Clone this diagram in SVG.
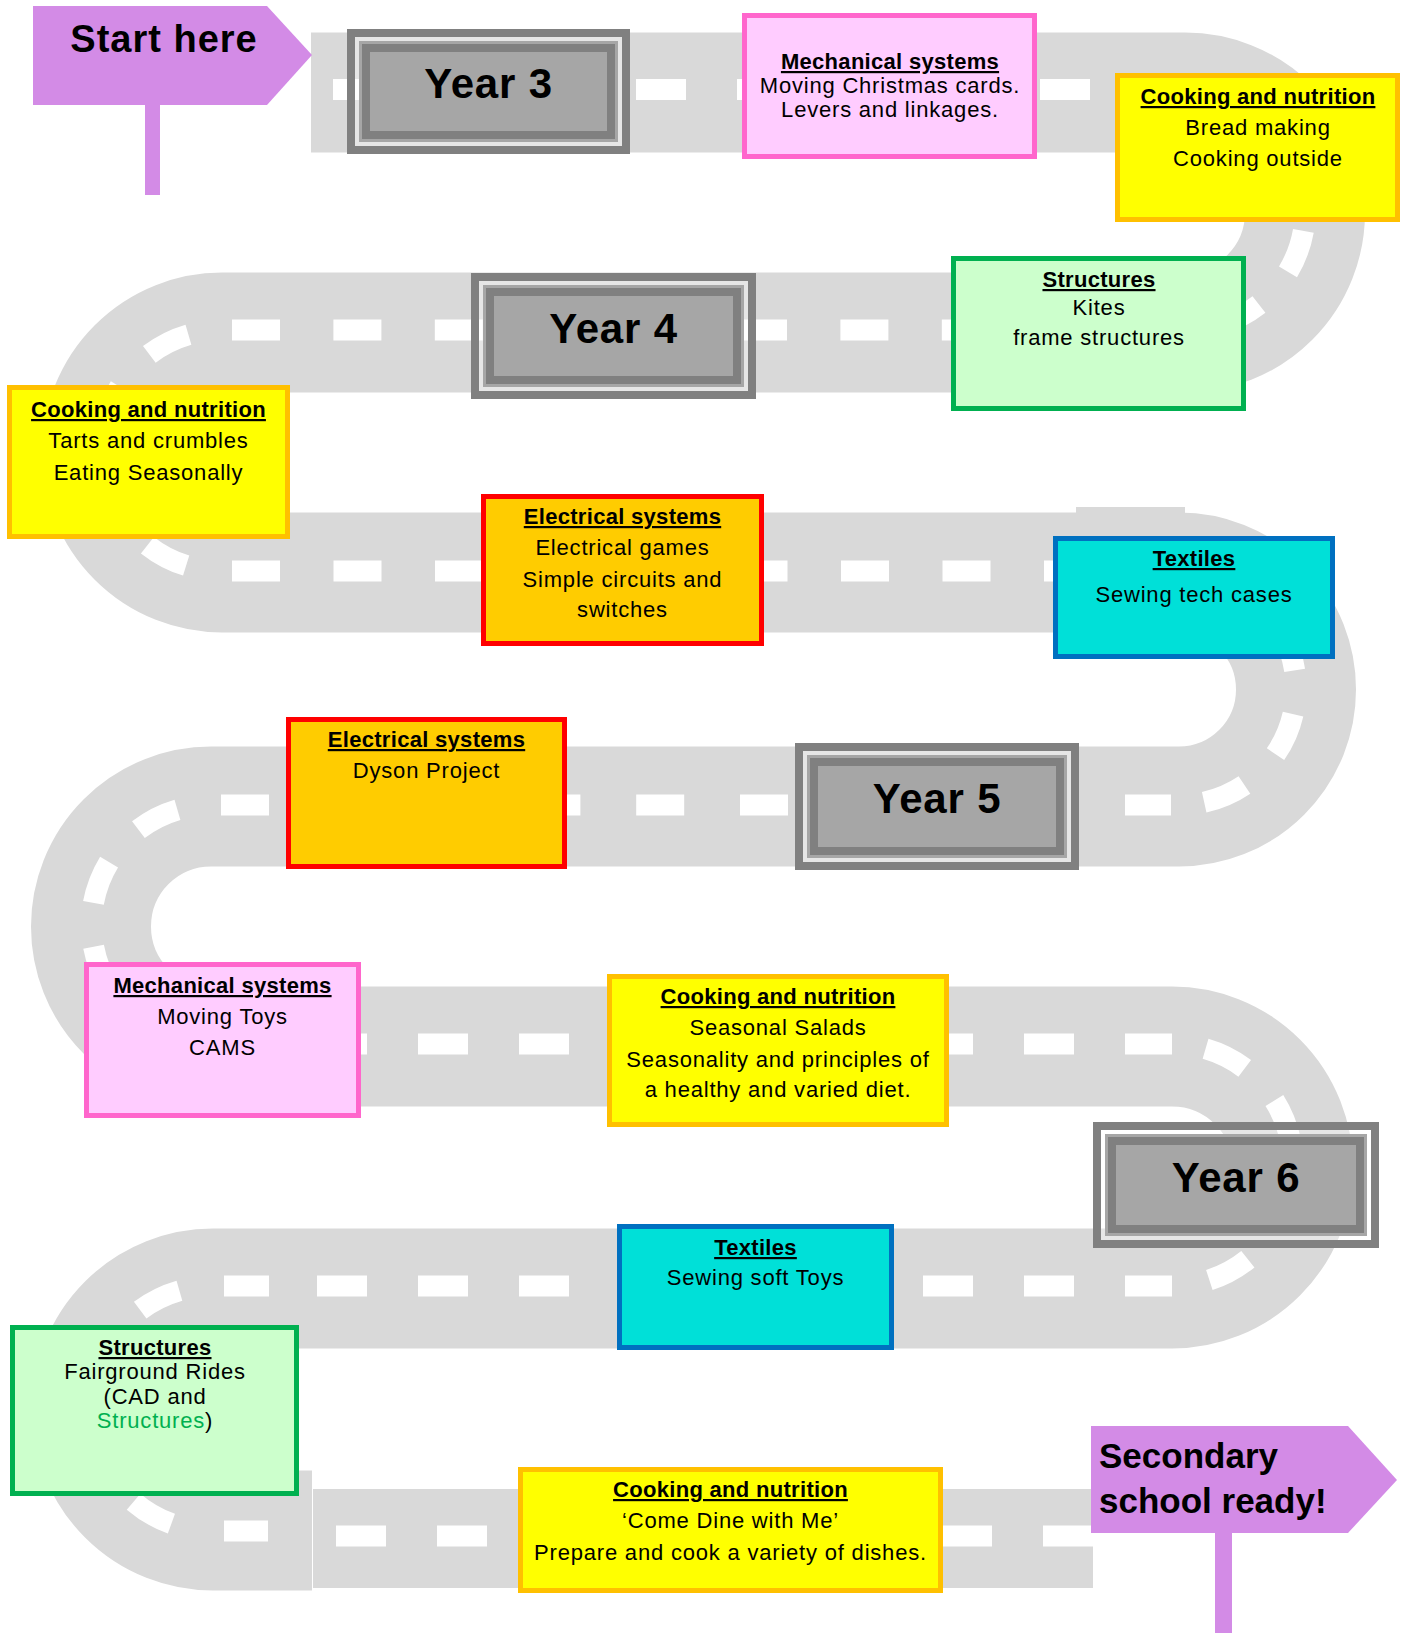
<svg xmlns="http://www.w3.org/2000/svg" width="1407" height="1640" viewBox="0 0 1407 1640">
<style>
.road{fill:none;stroke:#d9d9d9;stroke-width:120}
.roadfill{fill:#d9d9d9}
.dash{fill:none;stroke:#ffffff;stroke-width:21}
.cdash{fill:none;stroke:#ffffff;stroke-width:21;stroke-dasharray:44 44;stroke-dashoffset:54}
.box{stroke-width:5}
.pink{fill:#ffccff;stroke:#ff66cc}
.yellow{fill:#ffff00;stroke:#ffc000}
.green{fill:#ccffcc;stroke:#00b050}
.orange{fill:#ffcc00;stroke:#ff0000}
.cyan{fill:#00e0d8;stroke:#0070c0}
.sign{fill:#d38be6}
.yf{fill:none;stroke:#808080;stroke-width:8}
.yg{fill:#ffffff;fill-opacity:0.35}
.ym{fill:#a6a6a6}
.yd{fill:#808080}
text{font-family:"Liberation Sans",Arial,sans-serif;fill:#000000}
.t{font-size:22px;text-anchor:middle;letter-spacing:0.8px}
.h{font-size:22px;text-anchor:middle;font-weight:bold;text-decoration:underline;letter-spacing:0.3px}
.yt{font-size:42px;font-weight:bold;text-anchor:middle;letter-spacing:0.8px}
.st{font-size:38px;font-weight:bold;letter-spacing:1px}
.sc{font-size:35px;font-weight:bold}
</style>

<g id="road">
<path class="road" d="M311,92.5 H1185 A120,120 0 0 1 1185,332.5 H222 A120,120 0 0 0 222,572.5 H1179 A117,117 0 0 1 1179,806.5 H211 A120,120 0 0 0 211,1046.5 H1172 A121,121 0 0 1 1172,1288.5 H213 A121,121 0 0 0 213,1530.5 H312"/>
<rect class="roadfill" x="1076" y="507" width="109" height="8"/>
<rect class="roadfill" x="313" y="1489" width="780" height="99"/>
<g id="dashes">
<path class="dash" d="M333,89.5 H1185" stroke-dasharray="50 51"/>
<path class="cdash" d="M1185,89.5 A120.25,120.25 0 0 1 1185,330"/>
<path class="dash" d="M232,330 H1185" stroke-dasharray="48 53.4"/>
<path class="cdash" d="M222,330 A120.5,120.5 0 0 0 222,571"/>
<path class="dash" d="M232,571 H1179" stroke-dasharray="48 53.5"/>
<path class="cdash" d="M1179,571 A117,117 0 0 1 1179,805"/>
<path class="dash" d="M221,805 H800" stroke-dasharray="48 55.8"/>
<path class="dash" d="M1125,805 H1171"/>
<path class="cdash" d="M211,805 A119.5,119.5 0 0 0 211,1044"/>
<path class="dash" d="M216,1044 H1172" stroke-dasharray="50 51"/>
<path class="cdash" d="M1172,1044 A121,121 0 0 1 1172,1286"/>
<path class="dash" d="M317,1286 H1172" stroke-dasharray="50 51"/>
<path class="dash" d="M224,1286 H269"/>
<path class="cdash" d="M213,1286 A122.5,122.5 0 0 0 213,1531"/>
<path class="dash" d="M224,1531 H268"/>
<path class="dash" d="M336,1536 H1093" stroke-dasharray="50 51"/>
</g>
</g>

<g id="start-sign">
<polygon class="sign" points="33,6 267,6 312,55 267,105 33,105"/>
<rect class="sign" x="145" y="105" width="15" height="90"/>
<text class="st" x="164" y="52" text-anchor="middle">Start here</text>
</g>

<g id="year3">
<rect class="yf" x="351" y="33" width="275" height="117"/>
<rect class="yg" x="355" y="37" width="267" height="109"/>
<rect class="ym" x="359" y="41" width="259" height="101"/>
<rect class="yd" x="362" y="44" width="253" height="95"/>
<rect class="ym" x="370" y="52" width="237" height="79"/>
<text class="yt" x="488.5" y="98">Year 3</text>
</g>

<g id="mech-y3">
<rect class="box pink" x="744.5" y="15.5" width="290" height="141"/>
<text class="h" x="890" y="69">Mechanical systems</text>
<text class="t" x="890" y="93">Moving Christmas cards.</text>
<text class="t" x="890" y="117">Levers and linkages.</text>
</g>

<g id="cook-y3">
<rect class="box yellow" x="1117.5" y="75.5" width="280" height="144"/>
<text class="h" x="1258" y="104">Cooking and nutrition</text>
<text class="t" x="1258" y="135">Bread making</text>
<text class="t" x="1258" y="166">Cooking outside</text>
</g>

<g id="struct-y3">
<rect class="box green" x="953.5" y="258.5" width="290" height="150"/>
<text class="h" x="1099" y="287">Structures</text>
<text class="t" x="1099" y="315">Kites</text>
<text class="t" x="1099" y="345">frame structures</text>
</g>

<g id="year4">
<rect class="yf" x="475" y="277" width="277" height="118"/>
<rect class="yg" x="479" y="281" width="269" height="110"/>
<rect class="ym" x="483" y="285" width="261" height="102"/>
<rect class="yd" x="486" y="288" width="255" height="96"/>
<rect class="ym" x="494" y="296" width="239" height="80"/>
<text class="yt" x="613.5" y="343">Year 4</text>
</g>

<g id="cook-y4">
<rect class="box yellow" x="9.5" y="387.5" width="278" height="149"/>
<text class="h" x="148.5" y="417">Cooking and nutrition</text>
<text class="t" x="148.5" y="448">Tarts and crumbles</text>
<text class="t" x="148.5" y="480">Eating Seasonally</text>
</g>

<g id="elec-y4">
<rect class="box orange" x="483.5" y="496.5" width="278" height="147"/>
<text class="h" x="622.5" y="524">Electrical systems</text>
<text class="t" x="622.5" y="555">Electrical games</text>
<text class="t" x="622.5" y="587">Simple circuits and</text>
<text class="t" x="622.5" y="617">switches</text>
</g>

<g id="text-y4">
<rect class="box cyan" x="1055.5" y="538.5" width="277" height="118"/>
<text class="h" x="1194" y="566">Textiles</text>
<text class="t" x="1194" y="602">Sewing tech cases</text>
</g>

<g id="elec-y5">
<rect class="box orange" x="288.5" y="719.5" width="276" height="147"/>
<text class="h" x="426.5" y="747">Electrical systems</text>
<text class="t" x="426.5" y="778">Dyson Project</text>
</g>

<g id="year5">
<rect class="yf" x="799" y="747" width="276" height="119"/>
<rect class="yg" x="803" y="751" width="268" height="111"/>
<rect class="ym" x="807" y="755" width="260" height="103"/>
<rect class="yd" x="810" y="758" width="254" height="97"/>
<rect class="ym" x="818" y="766" width="238" height="81"/>
<text class="yt" x="937" y="813">Year 5</text>
</g>

<g id="mech-y5">
<rect class="box pink" x="86.5" y="964.5" width="272" height="151"/>
<text class="h" x="222.5" y="993">Mechanical systems</text>
<text class="t" x="222.5" y="1024">Moving Toys</text>
<text class="t" x="222.5" y="1055">CAMS</text>
</g>

<g id="cook-y5">
<rect class="box yellow" x="609.5" y="976.5" width="337" height="148"/>
<text class="h" x="778" y="1004">Cooking and nutrition</text>
<text class="t" x="778" y="1035">Seasonal Salads</text>
<text class="t" x="778" y="1067">Seasonality and principles of</text>
<text class="t" x="778" y="1097">a healthy and varied diet.</text>
</g>

<g id="year6">
<rect class="yf" x="1097" y="1126" width="278" height="118"/>
<rect class="yg" x="1101" y="1130" width="270" height="110"/>
<rect class="ym" x="1105" y="1134" width="262" height="102"/>
<rect class="yd" x="1108" y="1137" width="256" height="96"/>
<rect class="ym" x="1116" y="1145" width="240" height="80"/>
<text class="yt" x="1236" y="1192">Year 6</text>
</g>

<g id="text-y6">
<rect class="box cyan" x="619.5" y="1226.5" width="272" height="121"/>
<text class="h" x="755.5" y="1255">Textiles</text>
<text class="t" x="755.5" y="1285">Sewing soft Toys</text>
</g>

<g id="struct-y6">
<rect class="box green" x="12.5" y="1327.5" width="284" height="166"/>
<text class="h" x="155" y="1355">Structures</text>
<text class="t" x="155" y="1379">Fairground Rides</text>
<text class="t" x="155" y="1404">(CAD and</text>
<text class="t" x="155" y="1428"><tspan fill="#00b050">Structures</tspan>)</text>
</g>

<g id="cook-y6">
<rect class="box yellow" x="520.5" y="1469.5" width="420" height="121"/>
<text class="h" x="730.5" y="1497">Cooking and nutrition</text>
<text class="t" x="730.5" y="1528">‘Come Dine with Me’</text>
<text class="t" x="730.5" y="1560">Prepare and cook a variety of dishes.</text>
</g>

<g id="end-sign">
<polygon class="sign" points="1091,1426 1348,1426 1397,1480 1348,1533 1091,1533"/>
<rect class="sign" x="1215" y="1533" width="17" height="100"/>
<text class="sc" x="1099" y="1468">Secondary</text>
<text class="sc" x="1099" y="1513">school ready!</text>
</g>
</svg>
